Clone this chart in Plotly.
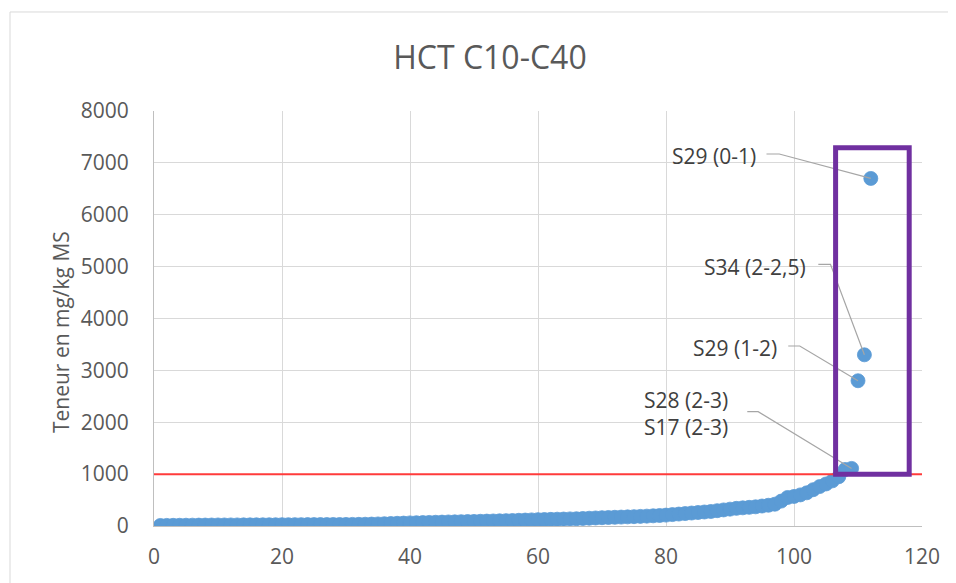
import plotly.graph_objects as go

# ---- data ----
sample_rank = list(range(1, 113))
hct_values = [
    10, 12, 13, 14, 15, 16, 17, 18, 19, 20,
    20, 21, 21, 22, 22, 23, 23, 24, 24, 25,
    25, 26, 26, 27, 27, 28, 28, 29, 29, 30,
    31, 32, 34, 37, 40, 44, 48, 52, 56, 60,
    63, 66, 69, 72, 75, 78, 80, 83, 86, 88,
    91, 94, 97, 100, 103, 106, 110, 114, 118, 122,
    125, 128, 131, 134, 137, 140, 145, 150, 155, 160,
    164, 168, 172, 176, 180, 185, 190, 196, 203, 210,
    220, 230, 240, 250, 260, 270, 280, 295, 310, 325,
    340, 350, 360, 370, 385, 400, 420, 480, 550, 570,
    600, 640, 700, 760, 810, 870, 950,
    1090, 1110, 2800, 3300, 6700,
]
threshold = 1000

label_texts = ["S29 (0-1)", "S34 (2-2,5)", "S29 (1-2)", "S28 (2-3)<br>S17 (2-3)"]
label_point_index = [111, 110, 109, 108]
# label placement (text right edge x, text centre y, leader start x, leader elbow x)
label_text_x = [94.4, 102.2, 97.7, 90.0]
label_text_y = [7133, 4999, 3426, 2161]
leader_start_x = [95.7, 103.8, 99.1, 92.7]
leader_start_y = [7171, 5045, 3470, 2203]
leader_elbow_x = [97.7, 105.7, 100.9, 94.4]

x_ticks = [0, 20, 40, 60, 80, 100, 120]
y_ticks = [0, 1000, 2000, 3000, 4000, 5000, 6000, 7000, 8000]

FONT = "Open Sans"
TXT = "#595959"

fig = go.Figure()

fig.add_trace(go.Scatter(
    x=sample_rank, y=hct_values, mode="markers",
    marker=dict(size=14, color="#5B9BD5", line=dict(width=0.8, color="#5B9BD5")),
    hoverinfo="x+y", showlegend=False,
))

for i, idx in enumerate(label_point_index):
    fig.add_trace(go.Scatter(
        x=[leader_start_x[i], leader_elbow_x[i], sample_rank[idx]],
        y=[leader_start_y[i], leader_start_y[i], hct_values[idx]],
        mode="lines", line=dict(color="#A6A6A6", width=1.2),
        hoverinfo="skip", showlegend=False,
    ))
    fig.add_annotation(
        x=label_text_x[i], y=label_text_y[i], xref="x", yref="y",
        text=label_texts[i], showarrow=False, xanchor="right", yanchor="middle",
        align="left", font=dict(family=FONT, size=21, color="#404040"),
    )

# threshold line
fig.add_shape(type="line", xref="paper", yref="y", x0=0, x1=1, y0=threshold, y1=threshold,
              line=dict(color="#FF3B3B", width=2), layer="above")
# highlight rectangle
fig.add_shape(type="rect", xref="x", yref="y", x0=106.5, x1=118.0, y0=1000, y1=7290,
              line=dict(color="#7030A0", width=5), fillcolor="rgba(0,0,0,0)", layer="above")
# chart border (left and top edges visible in the crop)
fig.add_shape(type="line", xref="paper", yref="paper", x0=-0.1875, x1=-0.1875, y0=-0.3, y1=1.2386,
              line=dict(color="#D9D9D9", width=1), layer="below")
fig.add_shape(type="line", xref="paper", yref="paper", x0=-0.1875, x1=1.2, y0=1.2386, y1=1.2386,
              line=dict(color="#D9D9D9", width=1), layer="below")

# y axis title
fig.add_annotation(
    x=-0.121, y=0.4675, xref="paper", yref="paper", text="Teneur en mg/kg MS",
    textangle=-90, showarrow=False, xanchor="center", yanchor="middle",
    font=dict(family=FONT, size=21, color=TXT),
)

fig.update_layout(
    width=948, height=575,
    margin=dict(l=146, r=34, t=103, b=57),
    paper_bgcolor="white", plot_bgcolor="white",
    title=dict(text="HCT C10-C40", x=0.5084, y=0.913, xref="container", yref="container",
               xanchor="center", yanchor="middle",
               font=dict(family=FONT, size=32, color=TXT)),
    font=dict(family=FONT, color=TXT),
    showlegend=False,
)
fig.update_xaxes(
    range=[0, 120], tickvals=x_ticks, ticktext=[str(v) for v in x_ticks],
    showgrid=True, gridcolor="#D9D9D9", gridwidth=1, zeroline=False,
    showline=True, linecolor="#BFBFBF", linewidth=1,
    ticks="", ticklabelstandoff=12, tickfont=dict(family=FONT, size=21, color=TXT),
)
fig.update_yaxes(
    range=[0, 8000], tickvals=y_ticks, ticktext=[str(v) for v in y_ticks],
    showgrid=True, gridcolor="#D9D9D9", gridwidth=1, zeroline=False,
    showline=True, linecolor="#BFBFBF", linewidth=1,
    ticks="", ticklabelstandoff=20, tickfont=dict(family=FONT, size=21, color=TXT),
)

fig.write_html("out.html")
